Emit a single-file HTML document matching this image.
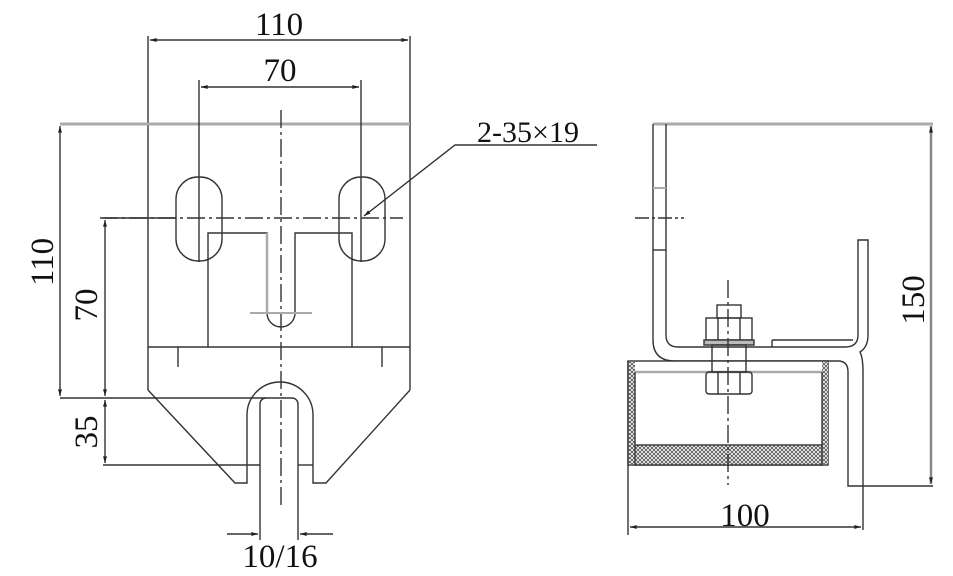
<!DOCTYPE html>
<html><head><meta charset="utf-8"><style>html,body{margin:0;padding:0;background:#fff}svg{display:block}</style></head><body>
<svg width="953" height="576" viewBox="0 0 953 576" xmlns="http://www.w3.org/2000/svg">
<defs><marker id="a" viewBox="0 0 10 6" refX="10" refY="3" markerWidth="10" markerHeight="4" orient="auto-start-reverse" markerUnits="userSpaceOnUse"><path d="M0,0L10,3L0,6z" fill="#222"/></marker>
<pattern id="h" width="4" height="4" patternUnits="userSpaceOnUse"><rect width="4" height="4" fill="#fff"/><path d="M0,0L4,4M4,0L0,4" stroke="#555" stroke-width="0.9"/></pattern></defs>
<g fill="none" stroke="#333" stroke-width="1.4">
<line x1="148" y1="36" x2="148" y2="390"/><line x1="410" y1="36" x2="410" y2="390"/>
<line x1="60" y1="124" x2="410" y2="124" stroke="#aaa" stroke-width="3"/>
<line x1="199" y1="80" x2="199" y2="262"/><line x1="361" y1="80" x2="361" y2="262"/>
<line x1="150" y1="40" x2="408" y2="40" marker-start="url(#a)" marker-end="url(#a)"/>
<line x1="201" y1="87" x2="359" y2="87" marker-start="url(#a)" marker-end="url(#a)"/>
<rect x="176" y="177" width="46" height="84" rx="22"/>
<rect x="339" y="177" width="46" height="84" rx="22"/>
<line x1="100" y1="218" x2="403" y2="218" stroke-dasharray="18,4,3,4"/>
<line x1="281" y1="110" x2="281" y2="505" stroke-dasharray="18,4,3,4"/>
<path d="M208,347V233H267V313"/><line x1="267" y1="233" x2="267" y2="313" stroke="#aaa" stroke-width="2.5"/>
<path d="M295,313V233H352V347"/>
<path d="M267,313A14,14 0 0 0 295,313"/>
<line x1="250" y1="313" x2="312" y2="313" stroke="#aaa" stroke-width="2"/>
<line x1="148" y1="347" x2="410" y2="347"/>
<line x1="178" y1="347" x2="178" y2="367"/><line x1="382" y1="347" x2="382" y2="367"/>
<path d="M148,390L235,483H247V415A33,33 0 0 1 313,415V483H326L410,390"/>
<path d="M260,540V404A6,6 0 0 1 266,398H292A6,6 0 0 1 298,404V540"/>
<line x1="60" y1="398" x2="266" y2="398"/>
<line x1="103" y1="465" x2="260" y2="465"/><line x1="298" y1="465" x2="313" y2="465"/>
<line x1="103" y1="218" x2="176" y2="218"/>
<line x1="60" y1="126" x2="60" y2="396" marker-start="url(#a)" marker-end="url(#a)"/>
<line x1="105" y1="220" x2="105" y2="396" marker-start="url(#a)" marker-end="url(#a)"/>
<line x1="105" y1="400" x2="105" y2="463" marker-start="url(#a)" marker-end="url(#a)"/>
<line x1="227" y1="534" x2="258" y2="534" marker-end="url(#a)"/>
<line x1="333" y1="534" x2="300" y2="534" marker-end="url(#a)"/>
<path d="M597,145H455L364,216" marker-end="url(#a)"/>
<line x1="653" y1="124" x2="933" y2="124" stroke="#aaa" stroke-width="3"/>
<path d="M653,124V340Q653,361 675,361H838Q848,361 848,372V486H933"/>
<path d="M666,124V335Q666,347 678,347H845Q858,347 858,335V240H868V335Q868,347 860,352Q863,358 863,372V530"/>
<line x1="772" y1="340" x2="772" y2="347"/><line x1="772" y1="340" x2="853" y2="340"/>
<line x1="653" y1="188" x2="666" y2="188" stroke="#aaa" stroke-width="2"/>
<line x1="653" y1="250" x2="666" y2="250"/>
<line x1="635" y1="218" x2="684" y2="218" stroke-dasharray="14,3,3,3"/>
<rect x="628" y="361" width="200" height="104" fill="#fff"/>
<rect x="629" y="362" width="6" height="102" fill="url(#h)" stroke="none"/>
<rect x="822" y="362" width="6" height="102" fill="url(#h)" stroke="none"/>
<rect x="635" y="445" width="187" height="20" fill="url(#h)"/>
<line x1="635" y1="372" x2="822" y2="372" stroke="#aaa" stroke-width="2.5"/>
<line x1="635" y1="372" x2="635" y2="445"/><line x1="822" y1="372" x2="822" y2="445"/>
<rect x="717" y="305" width="24" height="13"/>
<rect x="706" y="318" width="46" height="22"/>
<line x1="718" y1="318" x2="718" y2="340"/><line x1="740" y1="318" x2="740" y2="340"/>
<rect x="704" y="340" width="50" height="5" fill="#bbb"/>
<rect x="712" y="345" width="34" height="27"/>
<rect x="706" y="372" width="46" height="22" rx="3"/>
<line x1="718" y1="372" x2="718" y2="394"/><line x1="740" y1="372" x2="740" y2="394"/>
<line x1="728" y1="280" x2="728" y2="485" stroke-dasharray="18,4,3,4"/>
<line x1="628" y1="361" x2="628" y2="535"/>
<line x1="931" y1="126" x2="931" y2="484" marker-start="url(#a)" marker-end="url(#a)" stroke="#888" stroke-width="2.5"/>
<line x1="630" y1="527" x2="861" y2="527" marker-start="url(#a)" marker-end="url(#a)"/>
</g>
<g font-family="Liberation Serif, serif" fill="#111" font-size="33" text-anchor="middle">
<text x="279" y="35">110</text>
<text x="280" y="81">70</text>
<text x="528" y="142" font-size="30">2-35×19</text>
<text transform="translate(53,262) rotate(-90)">110</text>
<text transform="translate(97,305) rotate(-90)">70</text>
<text transform="translate(97,432) rotate(-90)">35</text>
<text x="280" y="567">10/16</text>
<text transform="translate(924,300) rotate(-90)">150</text>
<text x="745" y="526">100</text>
</g>
</svg>
</body></html>
